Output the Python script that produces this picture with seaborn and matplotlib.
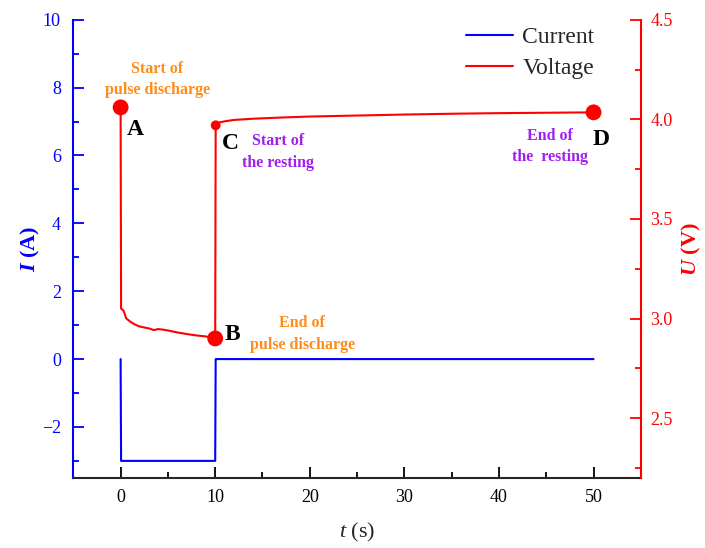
import pandas as pd
import matplotlib
matplotlib.use("Agg")
import matplotlib.pyplot as plt
import seaborn as sns
from matplotlib.ticker import MultipleLocator

# current profile (A)
t_current = [0, 0.05, 10, 10.05, 50]
i_current = [0, -3, -3, 0, 0]

# voltage profile (V)
t_voltage = [0, 0.05, 0.3, 0.6, 1.0, 1.5, 2.0, 3.0, 3.5, 4.0, 4.5, 5.0, 6.0, 7.0, 8.0, 9.0, 10.0,
             10.05, 10.2, 10.5, 11, 12, 14, 17, 20, 25, 30, 35, 40, 45, 50]
u_voltage = [4.06, 3.05, 3.04, 3.0, 2.985, 2.97, 2.96, 2.95, 2.942, 2.947, 2.944, 2.94, 2.93, 2.922, 2.915, 2.91, 2.90,
             3.97, 3.975, 3.985, 3.99, 3.997, 4.003, 4.009, 4.014, 4.019, 4.024, 4.028, 4.031, 4.033, 4.035]

# key points
pt_names = ["A", "B", "C", "D"]
pt_t = [0, 10, 10.05, 50]
pt_u = [4.06, 2.90, 3.97, 4.035]

df_i = pd.DataFrame({"t": t_current, "I": i_current})
df_u = pd.DataFrame({"t": t_voltage, "U": u_voltage})
df_pts = pd.DataFrame({"t": pt_t, "U": pt_u, "name": pt_names})

sns.set_style("white")
plt.rcParams["font.family"] = ["Liberation Serif", "DejaVu Serif"]
plt.rcParams["mathtext.fontset"] = "custom"
plt.rcParams["mathtext.rm"] = "Liberation Serif"
plt.rcParams["mathtext.it"] = "Liberation Serif:italic"
plt.rcParams["mathtext.bf"] = "Liberation Serif:bold"
plt.rcParams["mathtext.bfit"] = "Liberation Serif:italic:bold"

BLUE = "#0000FF"
RED = "#FF0000"
ORANGE = "#FF8C1A"
PURPLE = "#A020F0"

fig = plt.figure(figsize=(7.05, 5.48), dpi=100)
ax = fig.add_axes([0.104, 0.128, 0.805, 0.836])
ax2 = ax.twinx()

sns.lineplot(data=df_i, x="t", y="I", ax=ax, color=BLUE, lw=1.5, sort=False, estimator=None, label="Current")
sns.lineplot(data=df_u, x="t", y="U", ax=ax2, color=RED, lw=1.5, sort=False, estimator=None, label="Voltage")

big = df_pts[df_pts["name"] != "C"]
small = df_pts[df_pts["name"] == "C"]
sns.scatterplot(data=big, x="t", y="U", ax=ax2, color=RED, s=130, edgecolor="none", zorder=5, legend=False)
sns.scatterplot(data=small, x="t", y="U", ax=ax2, color=RED, s=50, edgecolor="none", zorder=5, legend=False)

ax.set_xlim(-5, 55)
ax.set_ylim(-3.5, 10)
ax2.set_ylim(2.2, 4.5)

ax.xaxis.set_major_locator(MultipleLocator(10))
ax.xaxis.set_minor_locator(MultipleLocator(5))
ax.yaxis.set_major_locator(MultipleLocator(2))
ax.yaxis.set_minor_locator(MultipleLocator(1))
ax2.yaxis.set_major_locator(MultipleLocator(0.5))
ax2.yaxis.set_minor_locator(MultipleLocator(0.25))
ax2.yaxis.set_major_formatter(matplotlib.ticker.FormatStrFormatter("%.1f"))

for a in (ax, ax2):
    a.spines["top"].set_visible(False)
ax.spines["right"].set_visible(False)
ax.spines["left"].set_color(BLUE)
ax2.spines["left"].set_visible(False)
ax2.spines["right"].set_color(RED)
ax2.spines["bottom"].set_visible(False)
for sp in ("left", "bottom"):
    ax.spines[sp].set_linewidth(1.5)
ax2.spines["right"].set_linewidth(1.5)

ax.tick_params(axis="x", which="both", direction="in", colors="black", labelsize=13, bottom=True, pad=8)
ax.tick_params(axis="x", which="major", length=8, width=1.3)
ax.tick_params(axis="x", which="minor", length=4, width=1.3)
ax.tick_params(axis="y", which="both", direction="in", colors=BLUE, labelsize=13, left=True, pad=9)
ax.tick_params(axis="y", which="major", length=8, width=1.3)
ax.tick_params(axis="y", which="minor", length=4, width=1.3)
ax2.tick_params(axis="y", which="both", direction="in", colors=RED, labelsize=13, right=True, pad=7)
ax2.tick_params(axis="y", which="major", length=8, width=1.3)
ax2.tick_params(axis="y", which="minor", length=4, width=1.3)

ax.set_xlabel(r"$\it{t}$ (s)", fontsize=16, labelpad=11)
ax.set_ylabel(r"$\mathbfit{I}$ (A)", fontsize=16, color=BLUE, fontweight="bold", labelpad=0)
ax2.set_ylabel(r"$\mathbfit{U}$ (V)", fontsize=16, color=RED, fontweight="bold", labelpad=5)

# legend with both series
h1, l1 = ax.get_legend_handles_labels()
h2, l2 = ax2.get_legend_handles_labels()
if ax2.get_legend():
    ax2.get_legend().remove()
ax.legend(h1 + h2, l1 + l2, loc="upper right", frameon=False, fontsize=17,
          handlelength=2.0, handletextpad=0.4, borderaxespad=0, borderpad=0.4,
          labelspacing=0.38, bbox_to_anchor=(0.935, 1.005))

# point letters
letter_pos = {"A": (1.6, 3.95), "B": (11.8, 2.92), "C": (11.6, 3.877), "D": (50.8, 3.897)}
for name, (tx, uy) in letter_pos.items():
    ax2.text(tx, uy, name, fontsize=17, fontweight="bold", color="black", ha="center", va="center")

ax2.text(3.9, 4.20, "Start of\npulse discharge", color=ORANGE, fontsize=11.5, fontweight="bold",
         ha="center", va="center", linespacing=1.45)
ax2.text(19.2, 2.922, "End of\npulse discharge", color=ORANGE, fontsize=11.5, fontweight="bold",
         ha="center", va="center", linespacing=1.45)
ax2.text(16.6, 3.835, "Start of\nthe resting", color=PURPLE, fontsize=11.5, fontweight="bold",
         ha="center", va="center", linespacing=1.45)
ax2.text(45.4, 3.865, "End of\nthe  resting", color=PURPLE, fontsize=11.5, fontweight="bold",
         ha="center", va="center", linespacing=1.45)

fig.savefig("out.png", dpi=100)
